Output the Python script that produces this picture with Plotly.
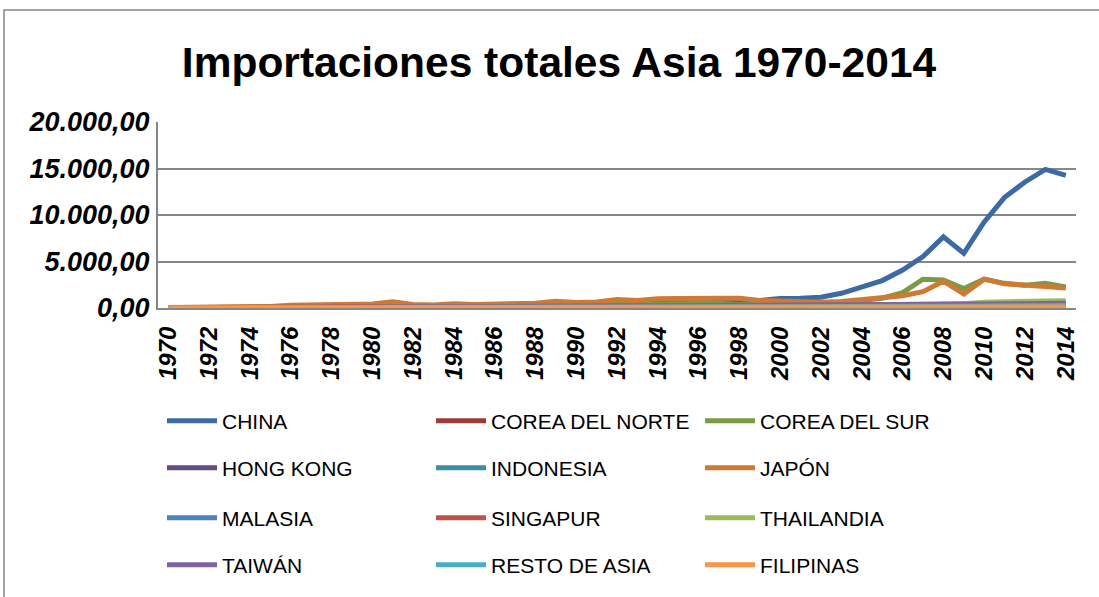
import plotly.graph_objects as go

years = [1970, 1971, 1972, 1973, 1974, 1975, 1976, 1977, 1978, 1979,
         1980, 1981, 1982, 1983, 1984, 1985, 1986, 1987, 1988, 1989,
         1990, 1991, 1992, 1993, 1994, 1995, 1996, 1997, 1998, 1999,
         2000, 2001, 2002, 2003, 2004, 2005, 2006, 2007, 2008, 2009,
         2010, 2011, 2012, 2013, 2014]

china = [30, 30, 40, 60, 70, 70, 60, 70, 100, 130,
         150, 160, 140, 150, 200, 300, 320, 300, 330, 340,
         300, 350, 400, 450, 480, 520, 550, 600, 620, 800,
         1020, 1050, 1150, 1580, 2250, 2950, 4080, 5520, 7650, 5880,
         9250, 11900, 13550, 14900, 14250]
corea_norte = [5, 5, 8, 10, 12, 10, 8, 10, 12, 15,
               18, 15, 12, 10, 12, 15, 18, 20, 22, 25,
               20, 18, 15, 12, 10, 12, 15, 12, 10, 10,
               12, 15, 18, 20, 22, 25, 28, 30, 32, 25,
               30, 35, 32, 30, 28]
corea_sur = [20, 25, 30, 40, 50, 50, 60, 70, 90, 110,
             120, 140, 130, 150, 170, 160, 180, 220, 260, 300,
             280, 320, 350, 380, 420, 500, 550, 500, 350, 450,
             550, 480, 520, 620, 800, 1050, 1650, 3100, 3000, 2100,
             3100, 2650, 2450, 2650, 2250]
hong_kong = [10, 12, 15, 20, 25, 25, 30, 35, 40, 50,
             60, 60, 55, 60, 70, 80, 90, 100, 120, 130,
             140, 150, 160, 170, 180, 190, 200, 190, 170, 180,
             200, 190, 200, 220, 250, 270, 290, 310, 320, 280,
             330, 360, 370, 380, 370]
indonesia = [10, 12, 15, 20, 30, 35, 40, 45, 50, 60,
             80, 90, 85, 80, 85, 80, 85, 90, 100, 110,
             130, 150, 160, 170, 180, 200, 220, 210, 150, 160,
             200, 190, 200, 220, 260, 300, 320, 360, 420, 350,
             450, 520, 550, 540, 500]
japon = [60, 70, 80, 120, 150, 170, 300, 320, 340, 380,
         420, 680, 380, 330, 450, 380, 420, 480, 520, 730,
         580, 640, 900, 800, 1000, 1020, 980, 1050, 1050, 800,
         750, 650, 620, 700, 880, 1100, 1320, 1750, 2880, 1500,
         3100, 2600, 2400, 2300, 2150]
malasia = [8, 10, 12, 15, 20, 22, 25, 30, 35, 40,
           50, 55, 55, 55, 60, 55, 50, 60, 70, 90,
           110, 130, 150, 170, 200, 230, 240, 220, 170, 200,
           240, 210, 230, 250, 280, 300, 320, 340, 360, 300,
           380, 420, 430, 440, 420]
singapur = [10, 12, 15, 20, 30, 35, 40, 45, 55, 70,
            90, 100, 100, 95, 100, 90, 90, 100, 120, 150,
            180, 200, 210, 230, 260, 290, 300, 280, 220, 230,
            270, 240, 250, 270, 300, 330, 360, 380, 400, 320,
            400, 430, 440, 430, 410]
thailandia = [10, 10, 12, 15, 20, 20, 22, 25, 30, 35,
              40, 40, 38, 40, 42, 40, 45, 55, 70, 90,
              110, 130, 150, 170, 200, 230, 250, 220, 150, 180,
              220, 210, 230, 260, 320, 380, 420, 480, 520, 450,
              620, 700, 720, 760, 780]
taiwan = [10, 12, 15, 20, 25, 28, 30, 35, 40, 50,
          60, 65, 60, 65, 70, 80, 100, 130, 160, 180,
          190, 200, 220, 240, 260, 290, 300, 290, 260, 280,
          320, 280, 290, 320, 370, 400, 420, 450, 460, 400,
          480, 500, 490, 510, 500]
resto_asia = [5, 6, 8, 10, 12, 14, 15, 16, 18, 20,
              25, 28, 26, 25, 26, 25, 28, 30, 35, 40,
              45, 50, 55, 60, 70, 80, 90, 85, 70, 75,
              90, 85, 90, 100, 120, 140, 160, 180, 200, 170,
              220, 250, 260, 270, 260]
filipinas = [5, 5, 6, 8, 10, 10, 12, 14, 15, 18,
             20, 22, 20, 18, 15, 15, 16, 18, 22, 25,
             28, 30, 32, 35, 40, 45, 50, 55, 45, 50,
             55, 50, 55, 60, 65, 70, 75, 80, 85, 75,
             90, 100, 105, 110, 105]

series_names = ["CHINA", "COREA DEL NORTE", "COREA DEL SUR",
                "HONG KONG", "INDONESIA", "JAPÓN",
                "MALASIA", "SINGAPUR", "THAILANDIA",
                "TAIWÁN", "RESTO DE ASIA", "FILIPINAS"]
series_values = [china, corea_norte, corea_sur, hong_kong, indonesia, japon,
                 malasia, singapur, thailandia, taiwan, resto_asia, filipinas]
series_colors = ["#3D6AA2", "#9C3B38", "#7A9A44", "#634C82", "#3A8FA4", "#CE7A34",
                 "#4F81BD", "#C0504D", "#9BBB59", "#8064A2", "#4BACC6", "#F79646"]

y_tick_vals = [0, 5000, 10000, 15000, 20000]
y_tick_text = ["0,00", "5.000,00", "10.000,00", "15.000,00", "20.000,00"]
x_tick_vals = years[::2]

# body margin is removed by post_script, so figure px == screen px
W, H = 1099, 597
SX0, SX1, SY0, SY1 = 158, 1076, 122, 308   # plot area in screen px
L, T = SX0, SY0
PW, PH = SX1 - SX0, SY1 - SY0
R, B = W - L - PW, H - T - PH

def px_x(sx):
    return (sx - SX0) / PW

def px_y(sy):
    return (SY1 - sy) / PH

fig = go.Figure()
legend_keys = ["legend", "legend2", "legend3", "legend4"]
for i, (name, vals, col) in enumerate(zip(series_names, series_values, series_colors)):
    fig.add_trace(go.Scatter(
        x=years, y=vals, name=name, mode="lines",
        line=dict(color=col, width=5),
        legend=legend_keys[i // 3],
    ))

legend_font = dict(family="Liberation Sans, Arial", size=21, color="#000000")
row_y = [421, 468, 518, 565]
legend_layout = {}
for k, ry in zip(legend_keys, row_y):
    legend_layout[k] = dict(
        orientation="h", x=px_x(162), y=px_y(ry), xref="paper", yref="paper",
        xanchor="left", yanchor="middle", entrywidth=204, entrywidthmode="pixels",
        font=legend_font, bgcolor="rgba(0,0,0,0)", traceorder="normal",
        itemwidth=50,
    )

fig.update_layout(
    width=W, height=H,
    margin=dict(l=L, r=R, t=T, b=B, autoexpand=False),
    paper_bgcolor="#FFFFFF", plot_bgcolor="#FFFFFF",
    title=dict(text="<b>Importaciones totales Asia 1970-2014</b>",
               x=559 / W, xref="container", xanchor="center",
               y=1 - 62 / H, yref="container", yanchor="middle",
               font=dict(family="Liberation Sans, Arial", size=42.5, color="#000000")),
    showlegend=True,
    **legend_layout,
)

fig.update_xaxes(
    range=[1969.5, 2014.5], tickmode="array", tickvals=x_tick_vals,
    ticktext=[str(v) for v in x_tick_vals], tickangle=-90,
    tickfont=dict(family="Liberation Sans, Arial", size=24, color="#000000", weight="bold", style="italic"),
    showgrid=False, zeroline=False, showline=True, linecolor="#868686", linewidth=2,
    ticks="", ticklabelstandoff=7,
)
fig.update_yaxes(
    range=[0, 20000], tickmode="array", tickvals=y_tick_vals, ticktext=y_tick_text,
    tickfont=dict(family="Liberation Sans, Arial", size=27, color="#000000", weight="bold", style="italic"),
    showgrid=True, gridcolor="#868686", gridwidth=2, zeroline=False,
    showline=True, linecolor="#868686", linewidth=2, ticks="", ticklabelstandoff=1,
)

fig.add_shape(type="rect", xref="paper", yref="paper",
              x0=px_x(4), x1=px_x(1110), y0=px_y(620), y1=px_y(10),
              line=dict(color="#868686", width=1.5), fillcolor="rgba(0,0,0,0)", layer="below")

fig.write_html("out.html", config={"displayModeBar": False},
               post_script="document.body.style.margin='0px';")
